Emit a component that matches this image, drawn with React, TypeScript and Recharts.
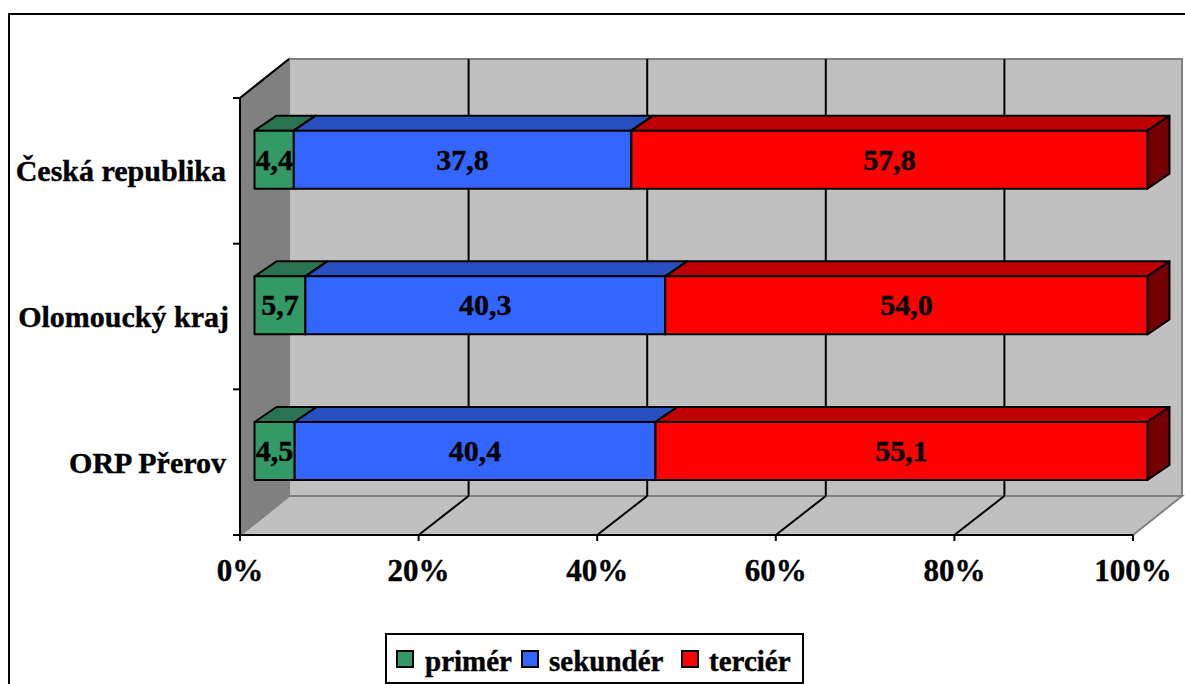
import { BarChart, Bar, XAxis, YAxis, CartesianGrid, Legend, LabelList } from 'recharts'

const categories = ['Česká republika', 'Olomoucký kraj', 'ORP Přerov']
const primer = [4.4, 5.7, 4.5]
const sekunder = [37.8, 40.3, 40.4]
const tercier = [57.8, 54.0, 55.1]
const xTicks = [0, 20, 40, 60, 80, 100]

const chartData = categories.map((name, i) => ({
  name,
  primer: primer[i],
  sekunder: sekunder[i],
  tercier: tercier[i]
}))

const FONT = '"Liberation Serif", serif'
const WIDTH = 1185
const HEIGHT = 684
// plot area = the front floor edge of the fake 3D box
const LEFT = 240
const TOP = 98
const RIGHT = 1133
const BOTTOM = 535
// depth of the box and of the bars
const WALL_DX = 49
const WALL_DY = 39
const BAR_SHIFT_X = 14.5
const BAR_SHIFT_Y = -11.3
const BAR_DX = 22
const BAR_DY = 15

const faces: Record<string, { top: string; side: string }> = {
  '#339966': { top: '#2A7350', side: '#1E5A3C' },
  '#3366FF': { top: '#2850C0', side: '#1A3480' },
  '#FF0000': { top: '#BF0000', side: '#740000' }
}

// box walls, floor and frame, drawn behind the grid
function Backdrop() {
  const bandTicks = [0, 1, 2, 3].map(
    (i) => TOP + ((BOTTOM - TOP) * i) / categories.length
  )
  return (
    <g>
      <rect x={9} y={14} width={WIDTH} height={HEIGHT} fill="#fff" stroke="#000" strokeWidth={2} />
      <rect
        x={LEFT + WALL_DX}
        y={TOP - WALL_DY}
        width={RIGHT - LEFT}
        height={BOTTOM - TOP}
        fill="#C0C0C0"
        stroke="#808080"
        strokeWidth={2}
      />
      <polygon
        points={`${LEFT},${BOTTOM} ${LEFT + WALL_DX},${BOTTOM - WALL_DY} ${RIGHT + WALL_DX},${BOTTOM - WALL_DY} ${RIGHT},${BOTTOM}`}
        fill="#C0C0C0"
        stroke="#808080"
        strokeWidth={2}
      />
      <polygon
        points={`${LEFT},${TOP} ${LEFT + WALL_DX},${TOP - WALL_DY} ${LEFT + WALL_DX},${BOTTOM - WALL_DY} ${LEFT},${BOTTOM}`}
        fill="#808080"
        stroke="#808080"
        strokeWidth={2}
      />
      <line x1={LEFT} y1={TOP} x2={LEFT + WALL_DX} y2={TOP - WALL_DY} stroke="#000" strokeWidth={2} />
      {bandTicks.map((y) => (
        <line key={y} x1={LEFT - 7} y1={y} x2={LEFT} y2={y} stroke="#000" strokeWidth={2} />
      ))}
    </g>
  )
}

// grid line on the back wall plus its run across the floor
function GridLine(props: any) {
  const { x1 } = props
  if (Math.abs(x1 - LEFT) < 1 || Math.abs(x1 - RIGHT) < 1) return <g />
  const backX = x1 + WALL_DX + 1
  return (
    <g stroke="#000" strokeWidth={2}>
      <line x1={backX} y1={TOP - WALL_DY} x2={backX} y2={BOTTOM - WALL_DY} />
      <line x1={backX} y1={BOTTOM - WALL_DY} x2={x1} y2={BOTTOM} />
    </g>
  )
}

function Bar3D(props: any) {
  const { x, y, width, height, fill } = props
  const fx = x + BAR_SHIFT_X
  const fy = y + BAR_SHIFT_Y
  const tone = faces[fill]
  return (
    <g stroke="#000" strokeWidth={2} strokeLinejoin="round">
      <polygon
        points={`${fx},${fy} ${fx + BAR_DX},${fy - BAR_DY} ${fx + width + BAR_DX},${fy - BAR_DY} ${fx + width},${fy}`}
        fill={tone.top}
      />
      <polygon
        points={`${fx + width},${fy} ${fx + width + BAR_DX},${fy - BAR_DY} ${fx + width + BAR_DX},${fy + height - BAR_DY} ${fx + width},${fy + height}`}
        fill={tone.side}
      />
      <rect x={fx} y={fy} width={width} height={height} fill={fill} />
    </g>
  )
}

function BarValue(props: any) {
  const { x, y, width, height, value } = props
  return (
    <text
      x={x + BAR_SHIFT_X + width / 2}
      y={y + BAR_SHIFT_Y + height / 2 + 10}
      textAnchor="middle"
      fontFamily={FONT}
      fontWeight="bold"
      fontSize={30}
      stroke="#000"
      strokeWidth={0.4}
      fill="#000">
      {Number(value).toFixed(1).replace('.', ',')}
    </text>
  )
}

function CategoryTick(props: any) {
  const { y, payload, index } = props
  const rightEdge = [226, 229, 226]
  return (
    <text
      x={rightEdge[index] ?? 226}
      y={y + 10.5}
      textAnchor="end"
      fontFamily={FONT}
      fontWeight="bold"
      fontSize={30}
      stroke="#000"
      strokeWidth={0.4}
      fill="#000">
      {payload.value}
    </text>
  )
}

function LegendBox(props: any) {
  const swatchX = [9, 134, 294]
  const textX = [38, 162, 322]
  return (
    <div
      style={{
        position: 'relative',
        boxSizing: 'border-box',
        width: 419,
        height: 51,
        border: '2px solid #000',
        background: '#fff',
        fontFamily: FONT,
        fontWeight: 'bold',
        fontSize: 29,
        WebkitTextStroke: '0.4px #000'
      }}>
      {(props.payload || []).map((entry: any, i: number) => (
        <span key={entry.value}>
          <span
            style={{
              position: 'absolute',
              boxSizing: 'border-box',
              left: swatchX[i],
              top: 15,
              width: 18,
              height: 18,
              border: '2px solid #000',
              background: entry.color
            }}
          />
          <span
            style={{
              position: 'absolute',
              left: textX[i],
              top: 9,
              lineHeight: '34px',
              whiteSpace: 'nowrap'
            }}>
            {entry.value}
          </span>
        </span>
      ))}
    </div>
  )
}

export default function App() {
  return (
    <div style={{ position: 'absolute', left: 0, top: 0, width: WIDTH, height: HEIGHT, overflow: 'hidden' }}>
      <BarChart
        width={WIDTH}
        height={HEIGHT}
        data={chartData}
        layout="vertical"
        margin={{ top: TOP, left: 8, right: WIDTH - RIGHT, bottom: HEIGHT - BOTTOM - 60 }}>
        <Backdrop />
        <CartesianGrid horizontal={false} vertical={GridLine} zIndex={1} />
        <XAxis
          type="number"
          domain={[0, 100]}
          ticks={xTicks}
          interval={0}
          height={60}
          tickFormatter={(v) => `${v}%`}
          axisLine={{ stroke: '#000', strokeWidth: 2 }}
          tickLine={{ stroke: '#000', strokeWidth: 2 }}
          tickSize={6}
          tickMargin={18}
          tick={{ fontFamily: FONT, fontWeight: 'bold', fontSize: 31, fill: '#000', stroke: '#000', strokeWidth: 0.4 }}
        />
        <YAxis
          type="category"
          dataKey="name"
          width={232}
          axisLine={{ stroke: '#000', strokeWidth: 2 }}
          tickLine={false}
          tick={CategoryTick}
        />
        <Legend
          verticalAlign="middle"
          align="center"
          content={LegendBox}
          wrapperStyle={{ position: 'absolute', left: 385, top: 633, width: 419, height: 51 }}
        />
        <Bar dataKey="primer" name="primér" stackId="a" fill="#339966" barSize={58} shape={Bar3D} isAnimationActive={false}>
          <LabelList dataKey="primer" content={BarValue} />
        </Bar>
        <Bar dataKey="sekunder" name="sekundér" stackId="a" fill="#3366FF" barSize={58} shape={Bar3D} isAnimationActive={false}>
          <LabelList dataKey="sekunder" content={BarValue} />
        </Bar>
        <Bar dataKey="tercier" name="terciér" stackId="a" fill="#FF0000" barSize={58} shape={Bar3D} isAnimationActive={false}>
          <LabelList dataKey="tercier" content={BarValue} />
        </Bar>
      </BarChart>
    </div>
  )
}
